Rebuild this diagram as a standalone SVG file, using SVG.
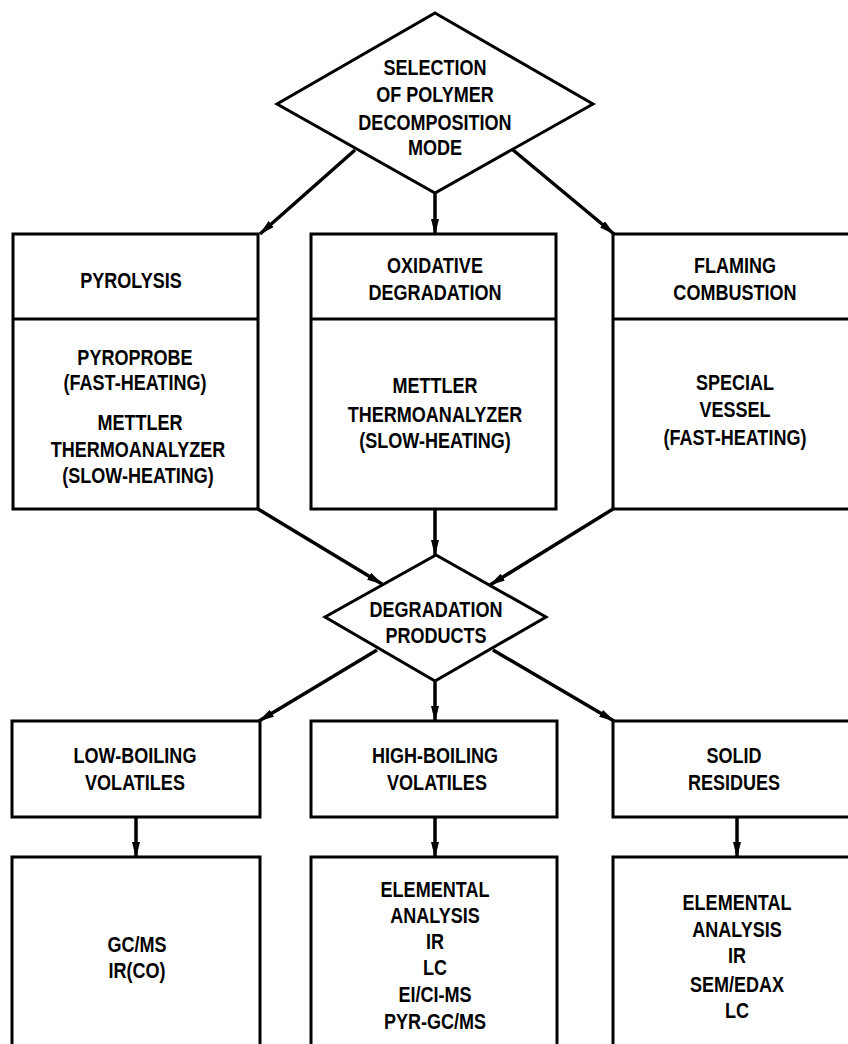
<svg xmlns="http://www.w3.org/2000/svg" width="848" height="1044" viewBox="0 0 848 1044">
  <style>
    .box { fill: #fff; stroke: #000; stroke-width: 3; }
    .div { stroke: #000; stroke-width: 3; }
    .dia { fill: #fff; stroke: #000; stroke-width: 3; stroke-linejoin: miter; }
    .con { stroke: #000; stroke-width: 3.5; fill: none; }
    text { font-family: "Liberation Sans", Arial, sans-serif; font-weight: bold; font-size: 22px;
           text-anchor: middle; fill: #000;
           transform-box: fill-box; transform-origin: center; transform: scaleX(0.82); }
  </style>
  <defs>
    <marker id="arrow" viewBox="0 0 16 8" refX="15" refY="4" markerWidth="16" markerHeight="8"
            markerUnits="userSpaceOnUse" orient="auto">
      <path d="M0,0 L16,4 L0,8 z" fill="#000"/>
    </marker>
  </defs>
  <rect width="848" height="1044" fill="#fff"/>

  <!-- connectors -->
  <g id="connectors">
    <line class="con" x1="355" y1="150" x2="260" y2="234" marker-end="url(#arrow)"/>
    <line class="con" x1="435" y1="193" x2="435" y2="234" marker-end="url(#arrow)"/>
    <line class="con" x1="513" y1="150" x2="614" y2="234" marker-end="url(#arrow)"/>
    <line class="con" x1="258" y1="509" x2="382" y2="584" marker-end="url(#arrow)"/>
    <line class="con" x1="435" y1="509" x2="435" y2="555" marker-end="url(#arrow)"/>
    <line class="con" x1="613" y1="509" x2="490" y2="585" marker-end="url(#arrow)"/>
    <line class="con" x1="377" y1="650" x2="259" y2="721" marker-end="url(#arrow)"/>
    <line class="con" x1="435" y1="681" x2="435" y2="721" marker-end="url(#arrow)"/>
    <line class="con" x1="493" y1="650" x2="614" y2="721" marker-end="url(#arrow)"/>
    <line class="con" x1="136" y1="817" x2="136" y2="857" marker-end="url(#arrow)"/>
    <line class="con" x1="435" y1="817" x2="435" y2="857" marker-end="url(#arrow)"/>
    <line class="con" x1="737" y1="817" x2="737" y2="857" marker-end="url(#arrow)"/>
  </g>

  <!-- decision: decomposition mode -->
  <g id="selection">
    <polygon class="dia" points="435,13 593,104 435,193 277,104"/>
    <text x="435" y="75">SELECTION</text>
    <text x="435" y="102">OF POLYMER</text>
    <text x="435" y="130">DECOMPOSITION</text>
    <text x="435" y="155">MODE</text>
  </g>

  <!-- decomposition modes -->
  <g id="pyrolysis">
    <rect class="box" x="13" y="234" width="245" height="275"/>
    <line class="div" x1="13" y1="319" x2="258" y2="319"/>
    <text x="131" y="288">PYROLYSIS</text>
    <text x="135" y="365">PYROPROBE</text>
    <text x="135" y="390">(FAST-HEATING)</text>
    <text x="140" y="430">METTLER</text>
    <text x="138" y="457">THERMOANALYZER</text>
    <text x="138" y="483">(SLOW-HEATING)</text>
  </g>

  <g id="oxidative">
    <rect class="box" x="311" y="234" width="245" height="275"/>
    <line class="div" x1="311" y1="319" x2="556" y2="319"/>
    <text x="435" y="273">OXIDATIVE</text>
    <text x="435" y="300">DEGRADATION</text>
    <text x="435" y="393">METTLER</text>
    <text x="435" y="422">THERMOANALYZER</text>
    <text x="435" y="448">(SLOW-HEATING)</text>
  </g>

  <g id="flaming">
    <rect class="box" x="613" y="234" width="250" height="275"/>
    <line class="div" x1="613" y1="319" x2="863" y2="319"/>
    <text x="735" y="273">FLAMING</text>
    <text x="735" y="300">COMBUSTION</text>
    <text x="735" y="390">SPECIAL</text>
    <text x="735" y="417">VESSEL</text>
    <text x="735" y="445">(FAST-HEATING)</text>
  </g>

  <!-- decision: products -->
  <g id="products">
    <polygon class="dia" points="436,555 546,617 435,681 325,617"/>
    <text x="436" y="617">DEGRADATION</text>
    <text x="436" y="643">PRODUCTS</text>
  </g>

  <!-- product classes -->
  <g id="low-boiling">
    <rect class="box" x="12" y="721" width="248" height="96"/>
    <text x="135" y="763">LOW-BOILING</text>
    <text x="135" y="790">VOLATILES</text>
  </g>

  <g id="high-boiling">
    <rect class="box" x="311" y="721" width="246" height="96"/>
    <text x="435" y="763">HIGH-BOILING</text>
    <text x="437" y="790">VOLATILES</text>
  </g>

  <g id="solid">
    <rect class="box" x="613" y="721" width="250" height="96"/>
    <text x="734" y="763">SOLID</text>
    <text x="734" y="790">RESIDUES</text>
  </g>

  <!-- analysis methods -->
  <g id="low-analysis">
    <rect class="box" x="12" y="857" width="248" height="200"/>
    <text x="137" y="952">GC/MS</text>
    <text x="137" y="978">IR(CO)</text>
  </g>

  <g id="high-analysis">
    <rect class="box" x="311" y="857" width="246" height="200"/>
    <text x="435" y="897">ELEMENTAL</text>
    <text x="435" y="923">ANALYSIS</text>
    <text x="435" y="949">IR</text>
    <text x="435" y="975">LC</text>
    <text x="435" y="1002">EI/CI-MS</text>
    <text x="435" y="1029">PYR-GC/MS</text>
  </g>

  <g id="solid-analysis">
    <rect class="box" x="613" y="857" width="250" height="200"/>
    <text x="737" y="910">ELEMENTAL</text>
    <text x="737" y="937">ANALYSIS</text>
    <text x="737" y="963">IR</text>
    <text x="737" y="992">SEM/EDAX</text>
    <text x="737" y="1018">LC</text>
  </g>
</svg>
